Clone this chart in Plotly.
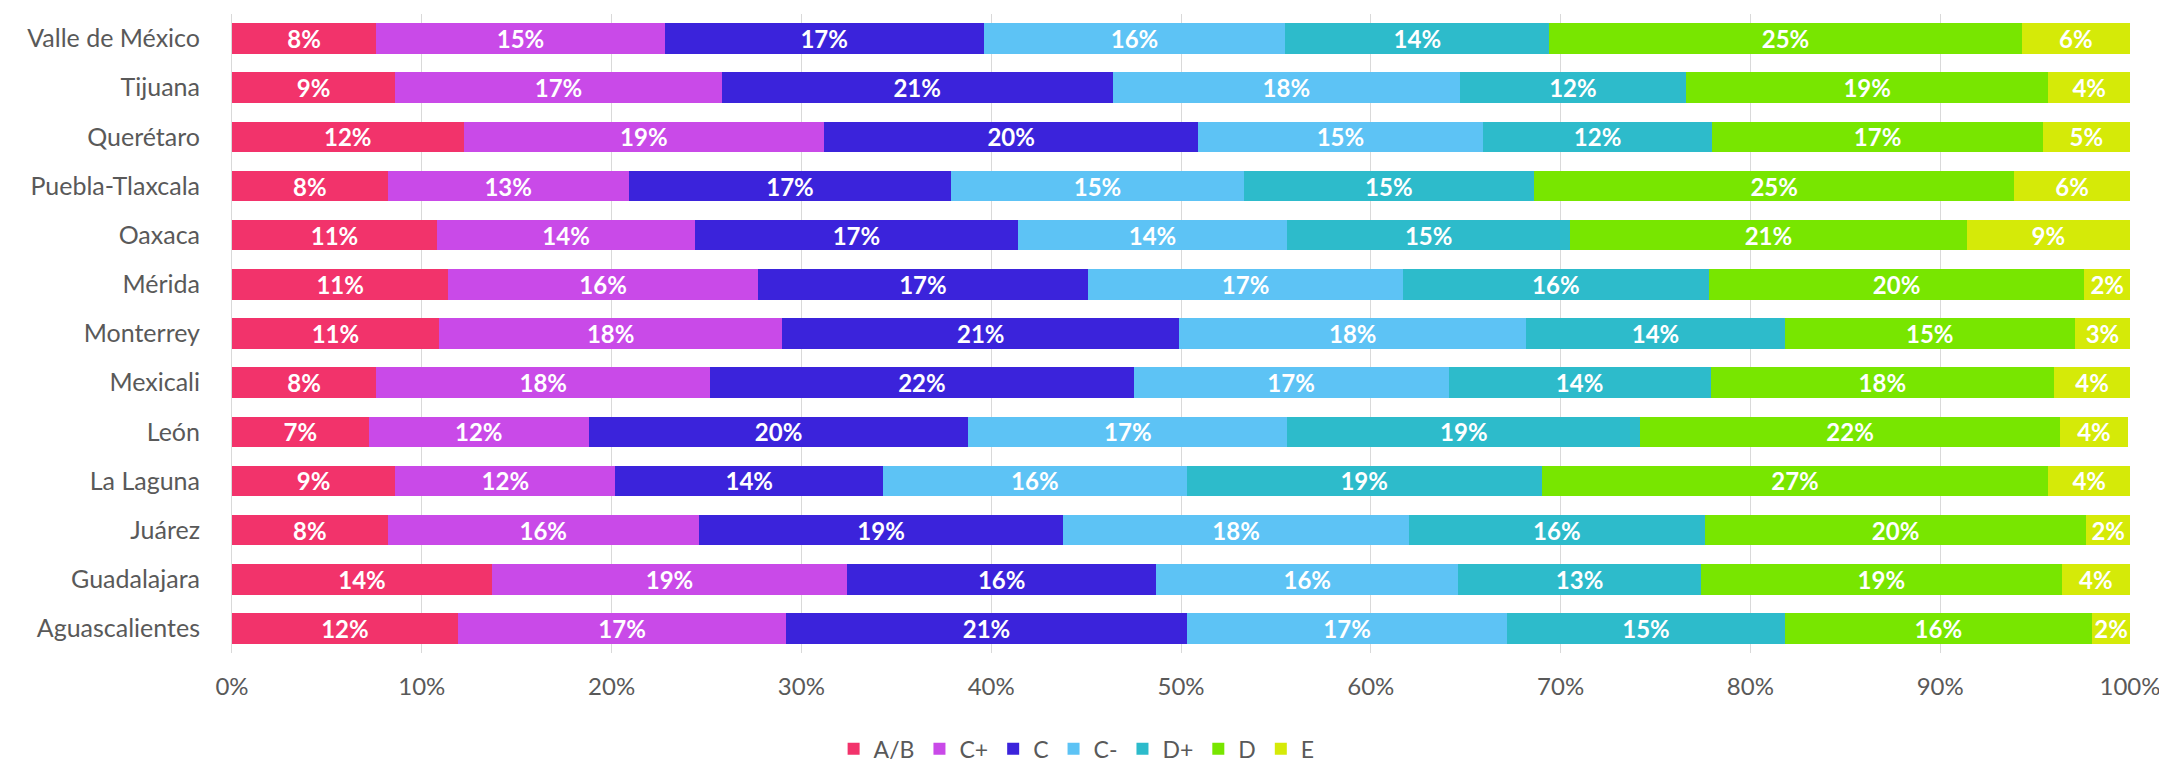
import plotly.graph_objects as go

cities = ["Valle de México", "Tijuana", "Querétaro", "Puebla-Tlaxcala", "Oaxaca",
          "Mérida", "Monterrey", "Mexicali", "León", "La Laguna", "Juárez",
          "Guadalajara", "Aguascalientes"]

ab     = [7.6, 8.6, 12.2, 8.2, 10.8, 11.4, 10.9, 7.6, 7.2, 8.6, 8.2, 13.7, 11.9]
c_plus = [15.2, 17.2, 19.0, 12.7, 13.6, 16.3, 18.1, 17.6, 11.6, 11.6, 16.4, 18.7, 17.3]
c      = [16.8, 20.6, 19.7, 17.0, 17.0, 17.4, 20.9, 22.3, 20.0, 14.1, 19.2, 16.3, 21.1]
c_min  = [15.9, 18.3, 15.0, 15.4, 14.2, 16.6, 18.3, 16.6, 16.8, 16.0, 18.2, 15.9, 16.9]
d_plus = [13.9, 11.9, 12.1, 15.3, 14.9, 16.1, 13.6, 13.8, 18.6, 18.7, 15.6, 12.8, 14.6]
d      = [24.9, 19.1, 17.4, 25.3, 20.9, 19.8, 15.3, 18.1, 22.1, 26.7, 20.1, 19.0, 16.2]
e      = [5.7, 4.3, 4.6, 6.1, 8.6, 2.4, 2.9, 4.0, 3.6, 4.3, 2.3, 3.6, 2.0]

series_names = ["A/B", "C+", "C", "C-", "D+", "D", "E"]
series_values = [ab, c_plus, c, c_min, d_plus, d, e]
colors = ["#F2336B", "#C94AE8", "#3B23DB", "#5DC3F5", "#2DBBCB", "#78E600", "#D5EA08"]

x_ticks = [0, 10, 20, 30, 40, 50, 60, 70, 80, 90, 100]
x_tick_labels = [f"{v}%" for v in x_ticks]

FONT = "Lato"
GRAY = "#595959"

fig = go.Figure()
for name, vals, col in zip(series_names, series_values, colors):
    fig.add_trace(go.Bar(
        y=cities, x=vals, name=name, orientation="h",
        marker=dict(color=col, line=dict(width=0)),
        text=[f"{round(v):d}%" for v in vals],
        textposition="inside", insidetextanchor="middle",
        constraintext="none",
        textfont=dict(family=FONT, size=24, color="white", weight="bold"),
        hoverinfo="skip",
    ))

fig.update_layout(
    barmode="stack",
    bargap=0.38,
    width=2167, height=768,
    margin=dict(l=224, r=45, t=6, b=110),
    paper_bgcolor="white", plot_bgcolor="white",
    font=dict(family=FONT, color=GRAY),
    legend=dict(
        orientation="h", x=0.445, xanchor="center", y=-0.15, yanchor="middle",
        font=dict(family=FONT, size=23, color=GRAY),
        traceorder="normal", itemwidth=30,
    ),
    xaxis=dict(
        range=[0, 100], tickvals=x_ticks, ticktext=x_tick_labels,
        showgrid=True, gridcolor="#D9D9D9", gridwidth=1,
        zeroline=False, showline=False,
        tickfont=dict(family=FONT, size=24, color=GRAY),
        ticks="", ticklabelstandoff=17,
    ),
    yaxis=dict(
        categoryorder="array", categoryarray=cities, autorange="reversed",
        showgrid=False, zeroline=False,
        showline=True, linecolor="#D9D9D9", linewidth=1,
        tickfont=dict(family=FONT, size=25, color=GRAY),
        ticks="", ticklabelstandoff=26,
    ),
)

fig.write_html("out.html")
